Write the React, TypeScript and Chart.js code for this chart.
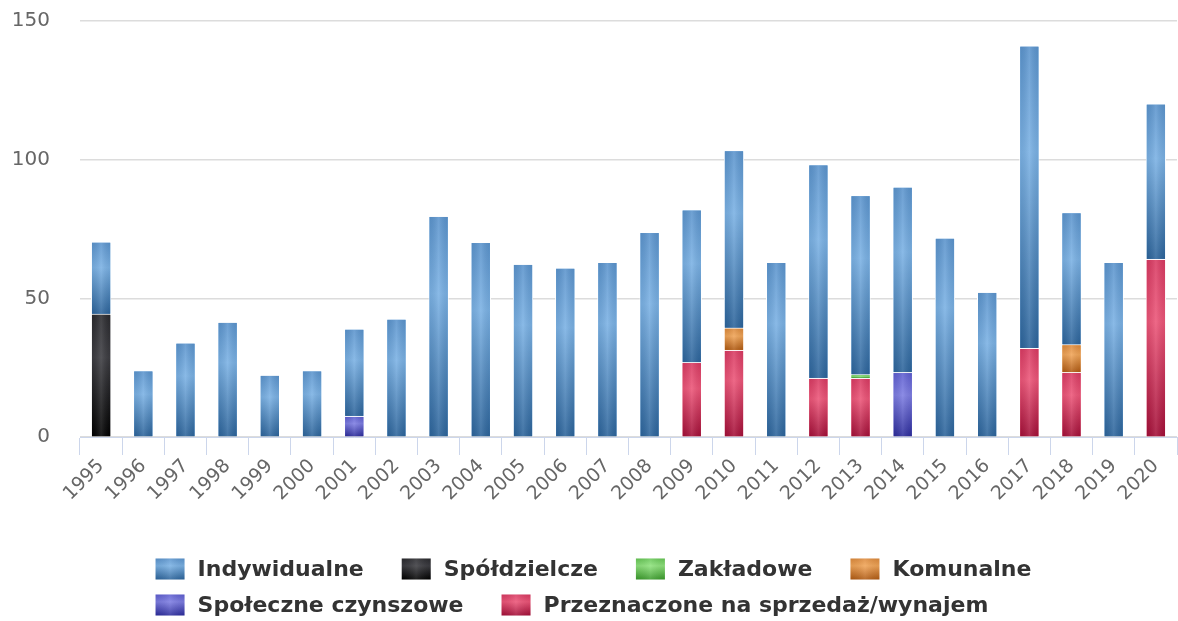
import React, { useEffect, useRef } from "react";
import { Chart, registerables } from "chart.js";

Chart.register(...registerables);

const years = ["1995","1996","1997","1998","1999","2000","2001","2002","2003","2004","2005","2006","2007","2008","2009","2010","2011","2012","2013","2014","2015","2016","2017","2018","2019","2020"];

const indywidualne = [26, 24, 34, 41.5, 22.4, 24, 31.4, 42.6, 79.7, 70.3, 62.4, 61, 63.1, 73.9, 55, 64, 63.1, 77, 64.6, 66.8, 71.8, 52.3, 109, 47.6, 63.1, 56];
const spoldzielcze = [44.4, null, null, null, null, null, null, null, null, null, null, null, null, null, null, null, null, null, null, null, null, null, null, null, null, null];
const zakladowe = [null, null, null, null, null, null, null, null, null, null, null, null, null, null, null, null, null, null, 1.3, null, null, null, null, null, null, null];
const komunalne = [null, null, null, null, null, null, null, null, null, null, null, null, null, null, null, 8, null, null, null, null, null, null, null, 10, null, null];
const spoleczne = [null, null, null, null, null, null, 7.6, null, null, null, null, null, null, null, null, null, null, null, null, 23.4, null, null, null, null, null, null];
const przeznaczone = [null, null, null, null, null, null, null, null, null, null, null, null, null, null, 27, 31.4, null, 21.3, 21.3, null, null, null, 32.1, 23.4, null, 64.2];

const yTicks = [0, 50, 100, 150];

// [top, light, dark]
const palette: Record<string, [string, string, string]> = {
  blue: ["#5b94cd", "#7ab1e4", "#2c649b"],
  black: ["#2a2a2e", "#3c3c41", "#000000"],
  green: ["#66c655", "#8ee27c", "#3a9a2b"],
  orange: ["#dd8a3c", "#f0a457", "#b05a12"],
  purple: ["#5e5ed0", "#7d7de2", "#2c2c9c"],
  red: ["#d93a62", "#ec5578", "#a40f38"],
};

function paintRect(ctx: CanvasRenderingContext2D, l: number, t: number, w: number, h: number, key: string) {
  if (w <= 0 || h <= 0) return;
  const [c0, c1, c2] = palette[key];
  const g = ctx.createLinearGradient(0, t, 0, t + h);
  g.addColorStop(0, c0);
  g.addColorStop(0.35, c1);
  g.addColorStop(1, c2);
  ctx.fillStyle = g;
  ctx.fillRect(l, t, w, h);
  const hg = ctx.createLinearGradient(l, 0, l + w, 0);
  hg.addColorStop(0, "rgba(0,0,0,0.06)");
  hg.addColorStop(0.5, "rgba(255,255,255,0.12)");
  hg.addColorStop(1, "rgba(0,0,0,0.06)");
  ctx.fillStyle = hg;
  ctx.fillRect(l, t, w, h);
}

const LEGEND_FONT = "bold 22px 'DejaVu Sans', sans-serif";

const gradientPlugin = {
  id: "gradientBars",
  afterDatasetsDraw(chart: any) {
    const ctx = chart.ctx;
    ctx.save();
    chart.data.datasets.forEach((ds: any, di: number) => {
      const meta = chart.getDatasetMeta(di);
      if (meta.hidden) return;
      meta.data.forEach((el: any, i: number) => {
        const v = ds.data[i];
        if (v === null || v === undefined) return;
        const { x, y, base, width } = el.getProps(["x", "y", "base", "width"], true);
        const top = Math.min(y, base);
        const bottom = Math.max(y, base);
        paintRect(ctx, x - width / 2 + 1, top + 1, width - 2, bottom - top - 1, ds.paletteKey);
      });
    });
    ctx.restore();
  },
  afterDraw(chart: any) {
    // Highcharts-style legend: rows left-aligned, block centred
    const ctx = chart.ctx;
    ctx.save();
    ctx.font = LEGEND_FONT;
    const boxW = 31, boxH = 23, gap = 12, spacing = 37, maxRow = 950, rowH = 36;
    const items = chart.data.datasets.map((ds: any) => ds).slice().reverse();
    const widths = items.map((ds: any) => boxW + gap + ctx.measureText(ds.label).width);
    const rows: number[][] = [];
    let cur: number[] = [];
    let curW = 0;
    widths.forEach((w: number, i: number) => {
      const add = cur.length ? spacing + w : w;
      if (cur.length && curW + add > maxRow) {
        rows.push(cur);
        cur = [i];
        curW = w;
      } else {
        cur.push(i);
        curW += add;
      }
    });
    if (cur.length) rows.push(cur);
    const rowWidths = rows.map((r) => r.reduce((s, i, k) => s + widths[i] + (k ? spacing : 0), 0));
    const blockW = Math.max(...rowWidths);
    const left = (chart.width - blockW) / 2 + 4;
    const firstY = chart.height - 52;
    rows.forEach((r, ri) => {
      let x = left;
      const cy = firstY + ri * rowH;
      r.forEach((i) => {
        const ds = items[i];
        ctx.fillStyle = "rgba(255,255,255,1)";
        ctx.fillRect(x, cy - boxH / 2, boxW, boxH);
        paintRect(ctx, x + 1, cy - boxH / 2 + 1, boxW - 2, boxH - 2, ds.paletteKey);
        ctx.fillStyle = "#333333";
        ctx.textBaseline = "middle";
        ctx.textAlign = "left";
        ctx.fillText(ds.label, x + boxW + gap, cy + 1);
        x += widths[i] + spacing;
      });
    });
    ctx.restore();
  },
};

export default function App() {
  const ref = useRef<HTMLCanvasElement>(null);
  useEffect(() => {
    if (!ref.current) return;
    const mk = (label: string, data: any[], key: string) => ({
      label,
      data,
      paletteKey: key,
      backgroundColor: palette[key][1],
      borderColor: "#ffffff",
      borderWidth: 1,
      stack: "s",
    });
    const chart = new Chart(ref.current, {
      type: "bar",
      data: {
        labels: years,
        datasets: [
          mk("Przeznaczone na sprzedaż/wynajem", przeznaczone, "red"),
          mk("Społeczne czynszowe", spoleczne, "purple"),
          mk("Komunalne", komunalne, "orange"),
          mk("Zakładowe", zakladowe, "green"),
          mk("Spółdzielcze", spoldzielcze, "black"),
          mk("Indywidualne", indywidualne, "blue"),
        ] as any,
      },
      options: {
        animation: false,
        responsive: true,
        maintainAspectRatio: false,
        layout: { padding: { top: 21, right: 1, left: 0, bottom: 104 } },
        datasets: { bar: { barPercentage: 0.48, categoryPercentage: 1 } },
        plugins: {
          tooltip: { enabled: false },
          legend: { display: false },
        },
        scales: {
          x: {
            stacked: true,
            afterFit: (s: any) => { s.height = 80; s.paddingTop = 0; s.paddingBottom = 0; },
            grid: { display: true, drawOnChartArea: false, drawTicks: true, tickLength: 18, color: "#ccd6eb", offset: true },
            border: { display: true, color: "#ccd6eb", width: 1 },
            ticks: {
              minRotation: 45,
              maxRotation: 45,
              color: "#666666",
              padding: 0,
              font: { family: "'DejaVu Sans', sans-serif", size: 19 },
            },
          },
          y: {
            stacked: true,
            min: 0,
            max: 150,
            afterFit: (s: any) => { s.width = 80; s.paddingTop = 0; s.paddingBottom = 0; },
            afterBuildTicks: (s: any) => { s.ticks = yTicks.map((v) => ({ value: v })); },
            grid: { color: "#dcdcdc", lineWidth: 1.5, drawTicks: false },
            border: { display: false },
            ticks: {
              padding: 30,
              color: "#666666",
              font: { family: "'DejaVu Sans', sans-serif", size: 20 },
            },
          },
        },
      },
      plugins: [gradientPlugin],
    });
    return () => chart.destroy();
  }, []);
  return (
    <div style={{ position: "fixed", left: 0, top: 0, width: 1178, height: 621 }}>
      <canvas ref={ref} />
    </div>
  );
}
